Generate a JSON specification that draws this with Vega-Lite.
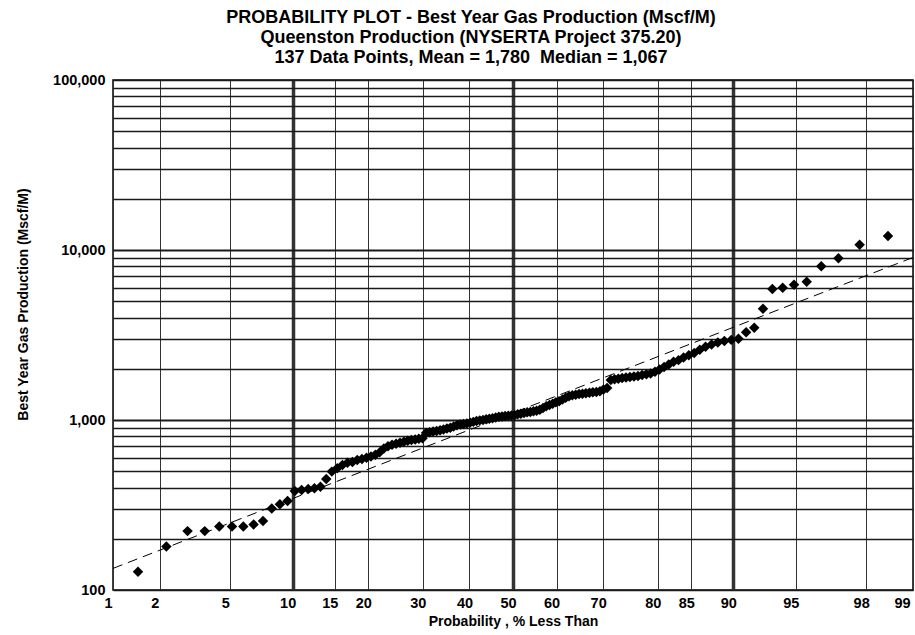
{
  "$schema": "https://vega.github.io/schema/vega-lite/v6.json",
  "width": 800,
  "height": 510,
  "autosize": {"type": "none"},
  "padding": {"left": 113, "top": 80, "right": 2, "bottom": 45},
  "background": "white",
  "config": {"font": "Liberation Sans", "view": {"stroke": "black", "strokeWidth": 1.5}},
  "title": {
    "text": ["PROBABILITY PLOT - Best Year Gas Production (Mscf/M)", "Queenston Production (NYSERTA Project 375.20)", "137 Data Points, Mean = 1,780\u00a0 Median = 1,067"],
    "fontSize": 18, "fontWeight": "bold", "color": "black", "anchor": "middle", "dx": -42, "offset": 5, "lineHeight": 20, "font": "Liberation Sans"
  },
  "datasets": {
    "points": [
      {"p": 1.46, "v": 128}, {"p": 2.19, "v": 180}, {"p": 2.92, "v": 222}, {"p": 3.65, "v": 222}, {"p": 4.38, "v": 236},
      {"p": 5.11, "v": 236}, {"p": 5.84, "v": 236}, {"p": 6.57, "v": 243}, {"p": 7.30, "v": 255}, {"p": 8.03, "v": 302},
      {"p": 8.76, "v": 319}, {"p": 9.49, "v": 334}, {"p": 10.22, "v": 382}, {"p": 10.95, "v": 387}, {"p": 11.68, "v": 393},
      {"p": 12.41, "v": 397}, {"p": 13.14, "v": 405}, {"p": 13.87, "v": 450}, {"p": 14.60, "v": 497}, {"p": 15.33, "v": 520},
      {"p": 16.06, "v": 543}, {"p": 16.79, "v": 561}, {"p": 17.52, "v": 566}, {"p": 18.25, "v": 582}, {"p": 18.98, "v": 590},
      {"p": 19.71, "v": 600}, {"p": 20.44, "v": 610}, {"p": 21.17, "v": 625}, {"p": 21.90, "v": 645}, {"p": 22.63, "v": 680},
      {"p": 23.36, "v": 700}, {"p": 24.09, "v": 715}, {"p": 24.82, "v": 725}, {"p": 25.55, "v": 735}, {"p": 26.28, "v": 745},
      {"p": 27.01, "v": 755}, {"p": 27.74, "v": 762}, {"p": 28.47, "v": 768}, {"p": 29.20, "v": 775}, {"p": 29.93, "v": 780},
      {"p": 30.66, "v": 840}, {"p": 31.39, "v": 848}, {"p": 32.12, "v": 855}, {"p": 32.85, "v": 862}, {"p": 33.58, "v": 870},
      {"p": 34.31, "v": 880}, {"p": 35.04, "v": 890}, {"p": 35.77, "v": 900}, {"p": 36.50, "v": 915}, {"p": 37.23, "v": 930},
      {"p": 37.96, "v": 940}, {"p": 38.69, "v": 948}, {"p": 39.42, "v": 955}, {"p": 40.15, "v": 965}, {"p": 40.88, "v": 975},
      {"p": 41.61, "v": 985}, {"p": 42.34, "v": 995}, {"p": 43.07, "v": 1000}, {"p": 43.80, "v": 1010}, {"p": 44.53, "v": 1018},
      {"p": 45.26, "v": 1025}, {"p": 45.99, "v": 1035}, {"p": 46.72, "v": 1045}, {"p": 47.45, "v": 1050}, {"p": 48.18, "v": 1055},
      {"p": 48.91, "v": 1060}, {"p": 49.64, "v": 1063}, {"p": 50.36, "v": 1067}, {"p": 51.09, "v": 1080}, {"p": 51.82, "v": 1090},
      {"p": 52.55, "v": 1100}, {"p": 53.28, "v": 1110}, {"p": 54.01, "v": 1115}, {"p": 54.74, "v": 1125}, {"p": 55.47, "v": 1135},
      {"p": 56.20, "v": 1150}, {"p": 56.93, "v": 1175}, {"p": 57.66, "v": 1205}, {"p": 58.39, "v": 1225}, {"p": 59.12, "v": 1245},
      {"p": 59.85, "v": 1270}, {"p": 60.58, "v": 1290}, {"p": 61.31, "v": 1320}, {"p": 62.04, "v": 1350}, {"p": 62.77, "v": 1380},
      {"p": 63.50, "v": 1400}, {"p": 64.23, "v": 1410}, {"p": 64.96, "v": 1420}, {"p": 65.69, "v": 1428}, {"p": 66.42, "v": 1435},
      {"p": 67.15, "v": 1445}, {"p": 67.88, "v": 1455}, {"p": 68.61, "v": 1462}, {"p": 69.34, "v": 1475}, {"p": 70.07, "v": 1510},
      {"p": 70.80, "v": 1545}, {"p": 71.53, "v": 1720}, {"p": 72.26, "v": 1735}, {"p": 72.99, "v": 1750}, {"p": 73.72, "v": 1765},
      {"p": 74.45, "v": 1780}, {"p": 75.18, "v": 1790}, {"p": 75.91, "v": 1800}, {"p": 76.64, "v": 1815}, {"p": 77.37, "v": 1840},
      {"p": 78.10, "v": 1860}, {"p": 78.83, "v": 1880}, {"p": 79.56, "v": 1920}, {"p": 80.29, "v": 1980}, {"p": 81.02, "v": 2050},
      {"p": 81.75, "v": 2120}, {"p": 82.48, "v": 2200}, {"p": 83.21, "v": 2250}, {"p": 83.94, "v": 2330}, {"p": 84.67, "v": 2400},
      {"p": 85.40, "v": 2480}, {"p": 86.13, "v": 2590}, {"p": 86.86, "v": 2700}, {"p": 87.59, "v": 2780}, {"p": 88.32, "v": 2860},
      {"p": 89.05, "v": 2920}, {"p": 89.78, "v": 2960}, {"p": 90.51, "v": 3010}, {"p": 91.24, "v": 3280}, {"p": 91.97, "v": 3490},
      {"p": 92.70, "v": 4510}, {"p": 93.43, "v": 5900}, {"p": 94.16, "v": 6000}, {"p": 94.89, "v": 6250}, {"p": 95.62, "v": 6510},
      {"p": 96.35, "v": 8020}, {"p": 97.08, "v": 8940}, {"p": 97.81, "v": 10750}, {"p": 98.54, "v": 12080}
    ],
    "fit": [
      {"p": 1, "v": 134},
      {"p": 99, "v": 9040}
    ]
  },
  "layer": [
    {
      "data": {"name": "fit"},
      "transform": [{"calculate": "quantileNormal(datum.p / 100)", "as": "z"}],
      "mark": {"type": "line", "color": "black", "strokeWidth": 1, "strokeDash": [10, 6], "clip": true},
      "encoding": {
        "x": {
          "field": "z", "type": "quantitative",
          "scale": {"domain": [-2.3263, 2.3263], "nice": false, "zero": false},
          "axis": {
            "title": "Probability , % Less Than",
            "values": [-2.3263, -2.0537, -1.6449, -1.2816, -1.0364, -0.8416, -0.5244, -0.2533, 0, 0.2533, 0.5244, 0.8416, 1.0364, 1.2816, 1.6449, 2.0537, 2.3263],
            "labelExpr": "round(cumulativeNormal(datum.value) * 100)",
            "grid": true,
            "gridColor": "#333333",
            "gridOpacity": 1,
            "gridWidth": {"condition": {"test": "abs(abs(datum.value) - 1.2816) < 0.001 || abs(datum.value) < 0.001", "value": 3.5}, "value": 1},
            "ticks": false,
            "domain": false,
            "labelFont": "Liberation Sans",
            "labelFontSize": 14.5,
            "labelFontWeight": "bold",
            "labelColor": "black",
            "labelPadding": 6,
            "labelOffset": {"condition": {"test": "datum.value > 2.3", "value": -11}, "value": -5},
            "labelFlush": false,
            "labelOverlap": false,
            "labelBound": false,
            "titleFont": "Liberation Sans",
            "titleFontSize": 14,
            "titleFontWeight": "bold",
            "titleColor": "black",
            "titlePadding": 5
          }
        },
        "y": {
          "field": "v", "type": "quantitative",
          "scale": {"type": "log", "domain": [100, 100000], "nice": false},
          "axis": {
            "title": "Best Year Gas Production (Mscf/M)",
            "values": [100, 200, 300, 400, 500, 600, 700, 800, 900, 1000, 2000, 3000, 4000, 5000, 6000, 7000, 8000, 9000, 10000, 20000, 30000, 40000, 50000, 60000, 70000, 80000, 90000, 100000],
            "labelExpr": "(datum.value == 100 || datum.value == 1000 || datum.value == 10000 || datum.value == 100000) ? format(datum.value, ',') : ''",
            "grid": true,
            "gridColor": "#1a1a1a",
            "gridOpacity": 1,
            "gridWidth": {"condition": {"test": "datum.value == 1000 || datum.value == 10000", "value": 2}, "value": 1.5},
            "ticks": false,
            "domain": false,
            "labelFont": "Liberation Sans",
            "labelFontSize": 14.5,
            "labelFontWeight": "bold",
            "labelColor": "black",
            "labelPadding": 8,
            "labelOverlap": false,
            "titleFont": "Liberation Sans",
            "titleFontSize": 14,
            "titleFontWeight": "bold",
            "titleColor": "black",
            "titlePadding": 22,
            "titleY": 224
          }
        }
      }
    },
    {
      "data": {"name": "points"},
      "transform": [{"calculate": "quantileNormal(datum.p / 100)", "as": "z"}],
      "mark": {"type": "point", "shape": "diamond", "filled": true, "color": "black", "opacity": 1, "size": 110, "clip": true},
      "encoding": {
        "x": {"field": "z", "type": "quantitative"},
        "y": {"field": "v", "type": "quantitative"}
      }
    }
  ]
}
